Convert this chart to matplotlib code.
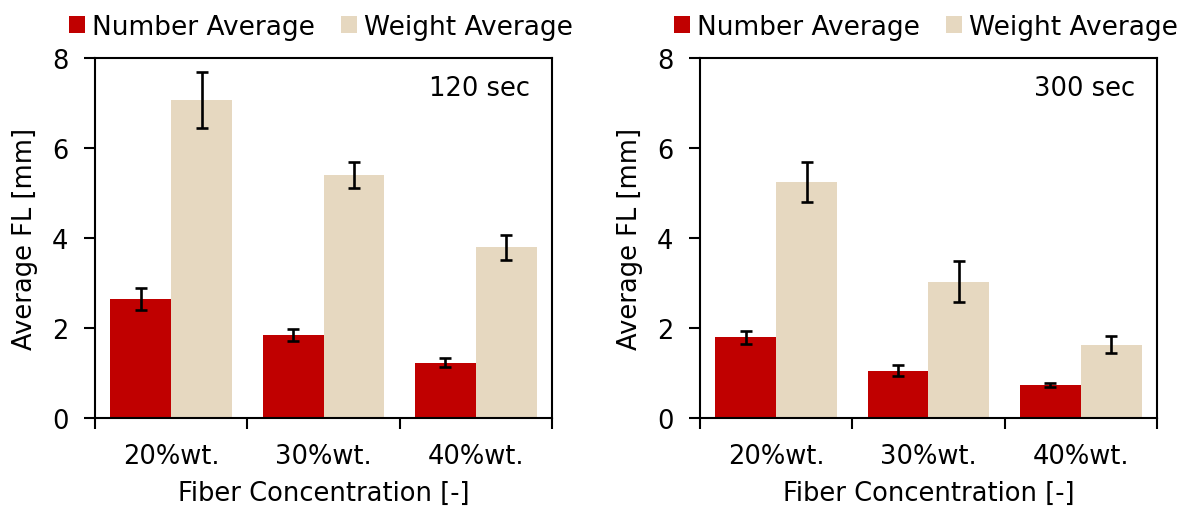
import matplotlib
matplotlib.use("Agg")
import matplotlib.pyplot as plt
import numpy as np
from matplotlib.patches import Patch

categories = ["20%wt.", "30%wt.", "40%wt."]
series = ["Number Average", "Weight Average"]
colors = ["#C00000", "#E6D8C0"]

# 120 sec
na_120 = [2.64, 1.84, 1.23]
na_120_err = [0.25, 0.13, 0.10]
wa_120 = [7.06, 5.41, 3.79]
wa_120_err = [0.62, 0.29, 0.27]

# 300 sec
na_300 = [1.79, 1.05, 0.73]
na_300_err = [0.15, 0.12, 0.05]
wa_300 = [5.25, 3.03, 1.63]
wa_300_err = [0.45, 0.46, 0.19]

panels = [
    ("120 sec", [na_120, wa_120], [na_120_err, wa_120_err]),
    ("300 sec", [na_300, wa_300], [na_300_err, wa_300_err]),
]

plt.rcParams["font.family"] = ["DejaVu Sans"]
plt.rcParams["font.size"] = 18.5

fig = plt.figure(figsize=(11.89, 5.10), dpi=100)
lefts = [0.0799, 0.5887]
x = np.arange(len(categories))
w = 0.4

for left, (label, vals, errs) in zip(lefts, panels):
    ax = fig.add_axes([left, 0.1784, 0.3844, 0.7059])
    for i, (v, e, c) in enumerate(zip(vals, errs, colors)):
        ax.bar(x + (i - 0.5) * w, v, w, color=c, edgecolor="none",
               yerr=e, capsize=4.5,
               error_kw=dict(elinewidth=1.9, capthick=1.9, ecolor="black"),
               zorder=2)
    ax.set_xlim(-0.5, 2.5)
    ax.set_ylim(0, 8)
    ax.set_yticks([0, 2, 4, 6, 8])
    ax.set_xticks(x)
    ax.set_xticklabels(categories)
    ax.tick_params(axis="x", length=0, pad=18)
    ax.set_xticks([-0.5, 0.5, 1.5, 2.5], minor=True)
    ax.tick_params(axis="x", which="minor", length=8, width=1.5, direction="out")
    ax.tick_params(axis="y", length=8, width=1.5, direction="out", pad=11)
    for s in ax.spines.values():
        s.set_linewidth(1.5)
    ax.set_ylabel("Average FL [mm]", labelpad=10)
    ax.set_xlabel("Fiber Concentration [-]", labelpad=8)
    ax.text(0.952, 0.918, label, transform=ax.transAxes, ha="right", va="center")
    handles = [Patch(facecolor=c, edgecolor="none") for c in colors]
    ax.legend(handles, series, loc="center", bbox_to_anchor=(0.495, 1.086),
              ncol=2, frameon=False, fontsize=19,
              handlelength=0.6, handleheight=0.6,
              handletextpad=0.26, columnspacing=1.0, borderaxespad=0)

fig.savefig("out.png", dpi=100)
